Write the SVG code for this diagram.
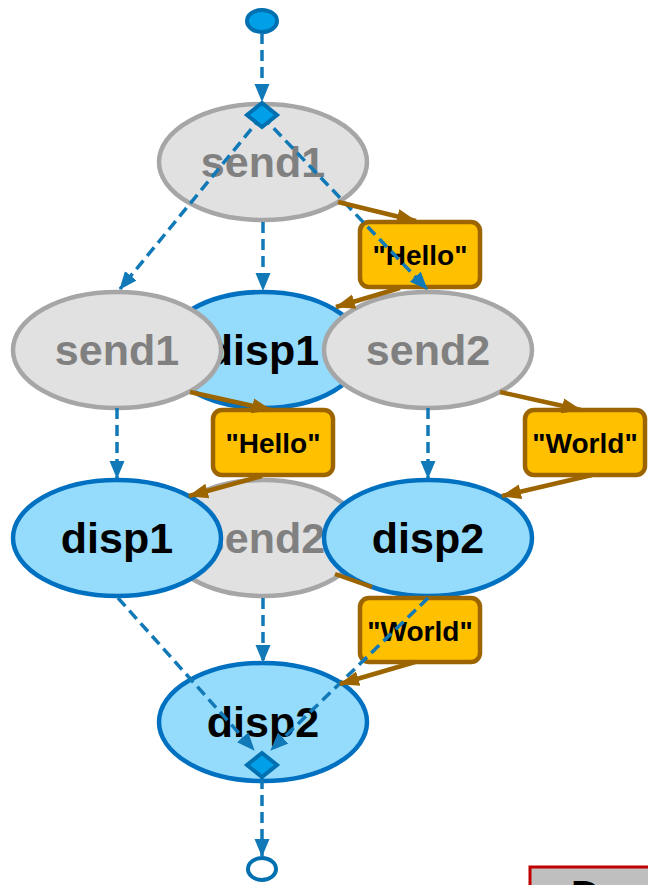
<svg xmlns="http://www.w3.org/2000/svg" width="648" height="885" viewBox="0 0 648 885">
  <style>
    .send { fill: #E1E1E1; stroke: #A6A6A6; stroke-width: 4.5; }
    .disp { fill: #94DBFC; stroke: #0070C0; stroke-width: 4.5; }
    .send-t { font-family: "Liberation Sans", Arial, sans-serif; font-weight: bold; font-size: 43px; fill: #808080; text-anchor: middle; }
    .disp-t { font-family: "Liberation Sans", Arial, sans-serif; font-weight: bold; font-size: 43px; fill: #000000; text-anchor: middle; }
    .msg { fill: #FFC000; stroke: #9C6500; stroke-width: 4.5; }
    .msg-t { font-family: "Liberation Sans", Arial, sans-serif; font-weight: bold; font-size: 28px; fill: #000000; text-anchor: middle; }
    .flow { fill: none; stroke: #1179B7; stroke-width: 3.5; stroke-dasharray: 11 6; }
    .data { fill: none; stroke: #9C6500; stroke-width: 4.5; }
    .pin { fill: #00A0E9; stroke: #0070B0; stroke-width: 4; }
  </style>
  <defs>
    <marker id="flowHead" markerUnits="userSpaceOnUse" markerWidth="18" markerHeight="18" viewBox="0 0 18 18" refX="17" refY="9" orient="auto">
      <path d="M0,1.5 L18,9 L0,16.5 Z" fill="#1179B7"/>
    </marker>
    <marker id="dataHead" markerUnits="userSpaceOnUse" markerWidth="20" markerHeight="18" viewBox="0 0 20 18" refX="19" refY="9" orient="auto">
      <path d="M0,1.5 L20,9 L0,16.5 Z" fill="#9C6500"/>
    </marker>
  </defs>

  <!-- start pin -->
  <g id="start">
    <ellipse class="pin" cx="262" cy="21" rx="15" ry="11"/>
  </g>

  <!-- top row -->
  <g id="send1-top">
    <ellipse class="send" cx="263" cy="162" rx="104" ry="58"/>
    <text class="send-t" x="263" y="177">send1</text>
  </g>

  <!-- middle row -->
  <g id="disp1-mid">
    <ellipse class="disp" cx="263" cy="350" rx="100" ry="58"/>
    <text class="disp-t" x="263" y="365">disp1</text>
  </g>
  <g id="send1-left">
    <ellipse class="send" cx="117" cy="350" rx="104" ry="58"/>
    <text class="send-t" x="117" y="365">send1</text>
  </g>
  <g id="send2-right">
    <ellipse class="send" cx="428" cy="350" rx="104" ry="58"/>
    <text class="send-t" x="428" y="365">send2</text>
  </g>

  <!-- lower row -->
  <g id="send2-mid">
    <ellipse class="send" cx="263" cy="538" rx="100" ry="58"/>
    <text class="send-t" x="263" y="553">send2</text>
  </g>
  <g id="disp1-left">
    <ellipse class="disp" cx="117" cy="538" rx="104" ry="58"/>
    <text class="disp-t" x="117" y="553">disp1</text>
  </g>
  <g id="disp2-right">
    <ellipse class="disp" cx="428" cy="538" rx="104" ry="58"/>
    <text class="disp-t" x="428" y="553">disp2</text>
  </g>

  <!-- bottom -->
  <g id="disp2-bottom">
    <ellipse class="disp" cx="263" cy="722" rx="104" ry="59"/>
    <text class="disp-t" x="263" y="737">disp2</text>
  </g>

  <!-- message tokens -->
  <g id="hello-1">
    <rect class="msg" x="360" y="222" width="120" height="65" rx="9"/>
    <text class="msg-t" x="420" y="265">"Hello"</text>
  </g>
  <g id="hello-2">
    <rect class="msg" x="213" y="410" width="120" height="65" rx="9"/>
    <text class="msg-t" x="273" y="453">"Hello"</text>
  </g>
  <g id="world-1">
    <rect class="msg" x="525" y="410" width="120" height="65" rx="9"/>
    <text class="msg-t" x="585" y="453">"World"</text>
  </g>
  <g id="world-2">
    <rect class="msg" x="360" y="598" width="120" height="64" rx="9"/>
    <text class="msg-t" x="420" y="641">"World"</text>
  </g>

  <!-- connectors -->
  <g id="connectors">
    <!-- control flow -->
    <path class="flow" d="M262,33 L262,101" marker-end="url(#flowHead)"/>
    <path class="flow" d="M262,116 L120,289" marker-end="url(#flowHead)"/>
    <path class="flow" d="M263,222 L263,290" marker-end="url(#flowHead)"/>
    <path class="flow" d="M262,116 L427,289" marker-end="url(#flowHead)"/>
    <path class="flow" d="M117,408 L117,478" marker-end="url(#flowHead)"/>
    <path class="flow" d="M428,408 L428,478" marker-end="url(#flowHead)"/>
    <path class="flow" d="M263,598 L263,662" marker-end="url(#flowHead)"/>
    <path class="flow" d="M118,598 L254,750" marker-end="url(#flowHead)"/>
    <path class="flow" d="M428,598 L271,750" marker-end="url(#flowHead)"/>
    <path class="flow" d="M262,778 L262,856" marker-end="url(#flowHead)"/>
    <!-- data flow -->
    <path class="data" d="M338,202 L416,221" marker-end="url(#dataHead)"/>
    <path class="data" d="M400,288 L336,307" marker-end="url(#dataHead)"/>
    <path class="data" d="M190,392 L271,410" marker-end="url(#dataHead)"/>
    <path class="data" d="M262,476 L189,496" marker-end="url(#dataHead)"/>
    <path class="data" d="M500,392 L581,410" marker-end="url(#dataHead)"/>
    <path class="data" d="M592,475 L502,496" marker-end="url(#dataHead)"/>
    <path class="data" d="M335,574 L372,587"/>
    <path class="data" d="M415,662 L340,684" marker-end="url(#dataHead)"/>
  </g>

  <!-- fork / join pins -->
  <g id="fork">
    <path class="pin" d="M262,103 L277,115 L262,127 L247,115 Z"/>
  </g>
  <g id="join">
    <path class="pin" d="M262,753 L277,765 L262,777 L247,765 Z"/>
  </g>
  <g id="end">
    <ellipse cx="262" cy="869" rx="14" ry="11" fill="#FFFFFF" stroke="#0070B0" stroke-width="4"/>
  </g>

  <!-- corner panel, mostly below the page edge -->
  <g id="corner-panel">
    <rect x="530" y="867" width="130" height="40" fill="#BFBFBF" stroke="#C00000" stroke-width="3"/>
    <text x="571" y="909" font-family="Liberation Sans, Arial, sans-serif" font-size="40" font-weight="bold" fill="#000000">D</text>
  </g>
</svg>
